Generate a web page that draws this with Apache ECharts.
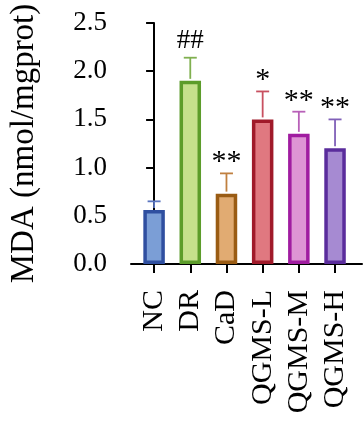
<!DOCTYPE html>
<html>
<head>
<meta charset="utf-8">
<script src="https://cdn.jsdelivr.net/npm/echarts@6/dist/echarts.min.js"></script>
<style>
  html, body { margin: 0; padding: 0; background: #fff; }
  #chart { width: 364px; height: 424px; }
</style>
</head>
<body>
<div id="chart"></div>
<script>
var categories = ['NC', 'DR', 'CaD', 'QGMS-L', 'QGMS-M', 'QGMS-H'];
var means = [0.56, 1.90, 0.73, 1.50, 1.35, 1.20];
var errUp = [0.09, 0.24, 0.21, 0.29, 0.23, 0.30];
var marks = ['', '##', '**', '*', '**', '**'];

var fills = ['#7b9ed6', '#c5e08c', '#e1ab72', '#e07880', '#de94d4', '#a68ad2'];
var borders = ['#2f4fa0', '#5c9c2a', '#9a5c14', '#a01a2a', '#a01ca0', '#5a2c9c'];
var errColors = ['#5b76c0', '#80b050', '#c08040', '#c85060', '#b860b8', '#8060b8'];

var serif = '"Liberation Serif", "Times New Roman", serif';
var chart = echarts.init(document.getElementById('chart'));

var idx = categories.map(function (c, i) { return i; });

var option = {
  animation: false,
  grid: { left: 122, right: 2, top: 23, bottom: 160 },
  xAxis: {
    type: 'value',
    min: -0.638,
    max: 5.745,
    splitLine: { show: false },
    axisLine: { show: true, lineStyle: { color: '#000', width: 2 } },
    axisTick: { show: true, customValues: idx, length: 9, lineStyle: { color: '#000', width: 2 } },
    axisLabel: {
      customValues: idx,
      rotate: 90,
      margin: 26,
      fontFamily: serif,
      fontSize: 30,
      color: '#000',
      formatter: function (v) { return categories[Math.round(v)]; }
    }
  },
  yAxis: {
    type: 'value',
    min: 0,
    max: 2.5,
    interval: 0.5,
    name: 'MDA (nmol/mgprot)',
    nameLocation: 'middle',
    nameRotate: 90,
    nameGap: 90,
    nameTextStyle: { fontFamily: serif, fontSize: 33, color: '#000' },
    splitLine: { show: false },
    axisLine: { show: true, lineStyle: { color: '#000', width: 2 } },
    axisTick: { show: true, length: 8, lineStyle: { color: '#000', width: 2 } },
    axisLabel: {
      margin: 24,
      fontFamily: serif,
      fontSize: 27,
      color: '#000',
      formatter: function (v) { return v.toFixed(1); }
    }
  },
  series: [
    {
      type: 'bar',
      barWidth: 21.5,
      data: means.map(function (v, i) {
        return {
          value: [i, v],
          itemStyle: { color: fills[i], borderColor: borders[i], borderWidth: 3.5 }
        };
      }),
      z: 2
    },
    {
      type: 'custom',
      data: means.map(function (v, i) { return [i, v, v + errUp[i]]; }),
      renderItem: function (params, api) {
        var i = api.value(0);
        var base = api.coord([i, api.value(1)]);
        var top = api.coord([i, api.value(2)]);
        var col = errColors[params.dataIndex];
        var st = { stroke: col, lineWidth: 1.8 };
        return {
          type: 'group',
          children: [
            { type: 'line', shape: { x1: top[0], y1: base[1] - 2, x2: top[0], y2: top[1] }, style: st },
            { type: 'line', shape: { x1: top[0] - 6.5, y1: top[1], x2: top[0] + 6.5, y2: top[1] }, style: st }
          ]
        };
      },
      z: 1
    },
    {
      type: 'custom',
      data: means.map(function (v, i) { return [i, v + errUp[i]]; }),
      renderItem: function (params, api) {
        var p = api.coord([api.value(0), api.value(1)]);
        var txt = marks[params.dataIndex];
        var isHash = txt.indexOf('#') >= 0;
        return {
          type: 'text',
          style: {
            x: p[0],
            y: p[1] - (isHash ? 17 : 11),
            text: txt,
            fill: '#000',
            font: (isHash ? '27px ' : '30px ') + serif,
            align: 'center',
            verticalAlign: 'middle'
          }
        };
      },
      z: 3
    }
  ]
};
chart.setOption(option);
</script>
</body>
</html>
